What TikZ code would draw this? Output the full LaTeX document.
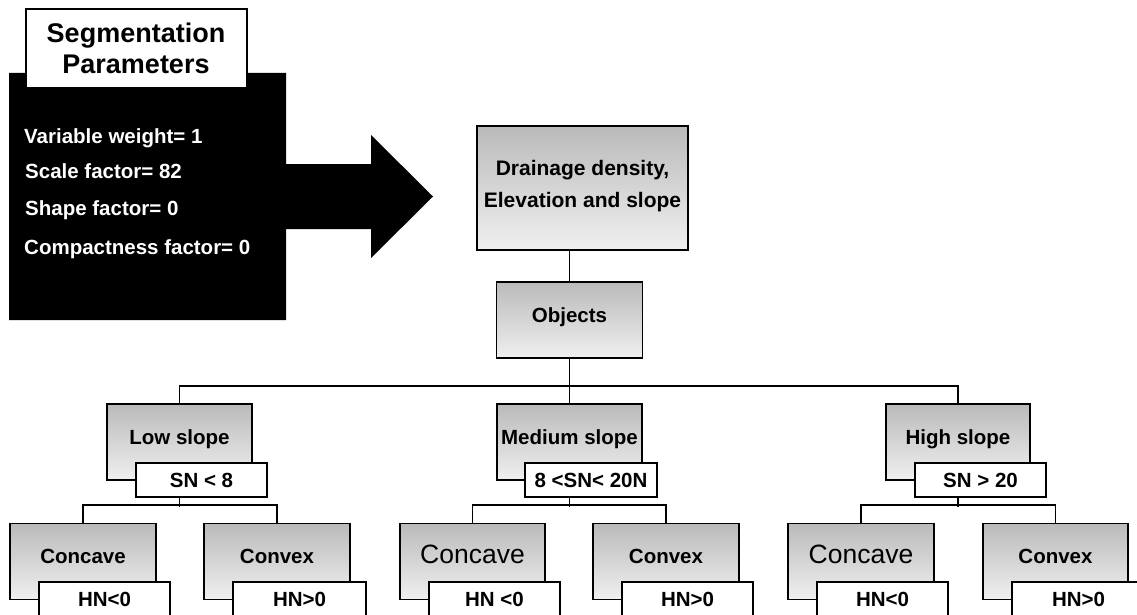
\documentclass[tikz,border=0pt]{standalone}
\usepackage{fontspec}
\setmainfont{Liberation Sans}
\begin{document}
\begin{tikzpicture}[x=1pt,y=-1pt,
  gbox/.style={draw=black, line width=1.6pt, top color=black!27, bottom color=black!6, minimum width=146pt, minimum height=76pt, inner sep=0pt},
  wbox/.style={draw=black, line width=1.6pt, fill=white, minimum width=132pt, minimum height=34pt, inner sep=0pt},
  bt/.style={font=\fontsize{20.5}{24}\selectfont\bfseries, inner sep=0pt, anchor=base},
  rt/.style={font=\fontsize{26.5}{30}\selectfont, inner sep=0pt, anchor=base},
  tt/.style={font=\fontsize{27}{30}\selectfont\bfseries, inner sep=0pt, anchor=base},
  wt/.style={font=\fontsize{20.5}{24}\selectfont\bfseries, text=white, inner sep=0pt, anchor=base west},
  conn/.style={draw=black, line width=1.6pt}
]
\clip (0,0) rectangle (1137,615);
\fill[white] (0,0) rectangle (1137,615);

% black panel with arrow
\fill[black] (9,73) -- (286,73) -- (286,164) -- (371,164) -- (371,135) -- (433,196.5)
  -- (371,258) -- (371,229) -- (286,229) -- (286,320) -- (9,320) -- cycle;
\node[draw=black, line width=1.6pt, fill=white, minimum width=221pt, minimum height=79pt, inner sep=0pt] (title) at (136.5,48.5) {};
\node[tt] (title1) at (136,43) {Segmentation};
\node[tt] (title2) at (136,74) {Parameters};
\node[wt] (p1) at (24,143) {Variable weight= 1};
\node[wt] (p2) at (25,178) {Scale factor= 82};
\node[wt] (p3) at (25,215) {Shape factor= 0};
\node[wt] (p4) at (24,254) {Compactness factor= 0};

% top boxes
\node[gbox, minimum width=211pt, minimum height=124pt] (drain) at (582.5,188) {};
\node[bt, font=\fontsize{21}{24}\selectfont\bfseries] (drain1) at (582.5,175) {Drainage density,};
\node[bt, font=\fontsize{21}{24}\selectfont\bfseries] (drain2) at (582.5,207) {Elevation and slope};
\node[gbox] (obj) at (569.5,320) {};
\node[bt] (objt) at (569.5,322) {Objects};

% slope level
\node[gbox, minimum width=145pt] (low) at (179.5,442) {};
\node[bt] (lowt) at (179.5,444) {Low slope};
\node[wbox, minimum width=131pt] (lowsn) at (201.5,480) {};
\node[bt] (lowsnt) at (201.5,487) {SN < 8};

\node[gbox, minimum width=145pt] (med) at (569.5,442) {};
\node[bt] (medt) at (569.5,444) {Medium slope};
\node[wbox] (medsn) at (591,480) {};
\node[bt] (medsnt) at (591,487) {8 <SN< 20N};

\node[gbox, minimum width=144pt] (high) at (958,442) {};
\node[bt] (hight) at (958,444) {High slope};
\node[wbox, minimum width=131pt] (highsn) at (980.5,480) {};
\node[bt] (highsnt) at (980.5,487) {SN > 20};

% bottom level
\node[gbox] (lcc) at (83,561.5) {};
\node[bt] (lcct) at (83,563) {Concave};
\node[wbox, minimum width=131pt, minimum height=36pt] (lccn) at (104.5,600) {};
\node[bt] (lccnt) at (104.5,606) {HN<0};

\node[gbox] (lcv) at (277,561.5) {};
\node[bt] (lcvt) at (277,563) {Convex};
\node[wbox, minimum width=133pt, minimum height=36pt] (lcvn) at (299.5,600) {};
\node[bt] (lcvnt) at (299.5,606) {HN>0};

\node[gbox, minimum width=145pt] (mcc) at (472.5,561.5) {};
\node[rt] (mcct) at (472.5,563) {Concave};
\node[wbox, minimum width=131pt, minimum height=36pt] (mccn) at (494.5,600) {};
\node[bt] (mccnt) at (494.5,606) {HN <0};

\node[gbox] (mcv) at (666,561.5) {};
\node[bt] (mcvt) at (666,563) {Convex};
\node[wbox, minimum width=131pt, minimum height=36pt] (mcvn) at (687.5,600) {};
\node[bt] (mcvnt) at (687.5,606) {HN>0};

\node[gbox] (hcc) at (861,561.5) {};
\node[rt] (hcct) at (861,563) {Concave};
\node[wbox, minimum width=131pt, minimum height=36pt] (hccn) at (882.5,600) {};
\node[bt] (hccnt) at (882.5,606) {HN<0};

\node[gbox, minimum width=145pt] (hcv) at (1055.5,561.5) {};
\node[bt] (hcvt) at (1055.5,563) {Convex};
\node[wbox, minimum width=133pt, minimum height=36pt] (hcvn) at (1078.5,600) {};
\node[bt] (hcvnt) at (1078.5,606) {HN>0};

% connectors
\draw[conn] (drain.south -| obj.north) -- (obj.north);
\draw[conn] (obj.south) -- ++(0,29);
\draw[conn] (low.north) -- ++(0,-17) -| (high.north);
\draw[conn] (med.north) -- ++(0,-17);
\draw[conn] (low.center |- lowsn.south) -- ++(0,9);
\draw[conn] (lcc.north) -- ++(0,-18) -| (lcv.north);
\draw[conn] (med.center |- medsn.south) -- ++(0,9);
\draw[conn] (mcc.north) -- ++(0,-18) -| (mcv.north);
\draw[conn] (high.center |- highsn.south) -- ++(0,9);
\draw[conn] (hcc.north) -- ++(0,-18) -| (hcv.north);
\end{tikzpicture}
\end{document}
